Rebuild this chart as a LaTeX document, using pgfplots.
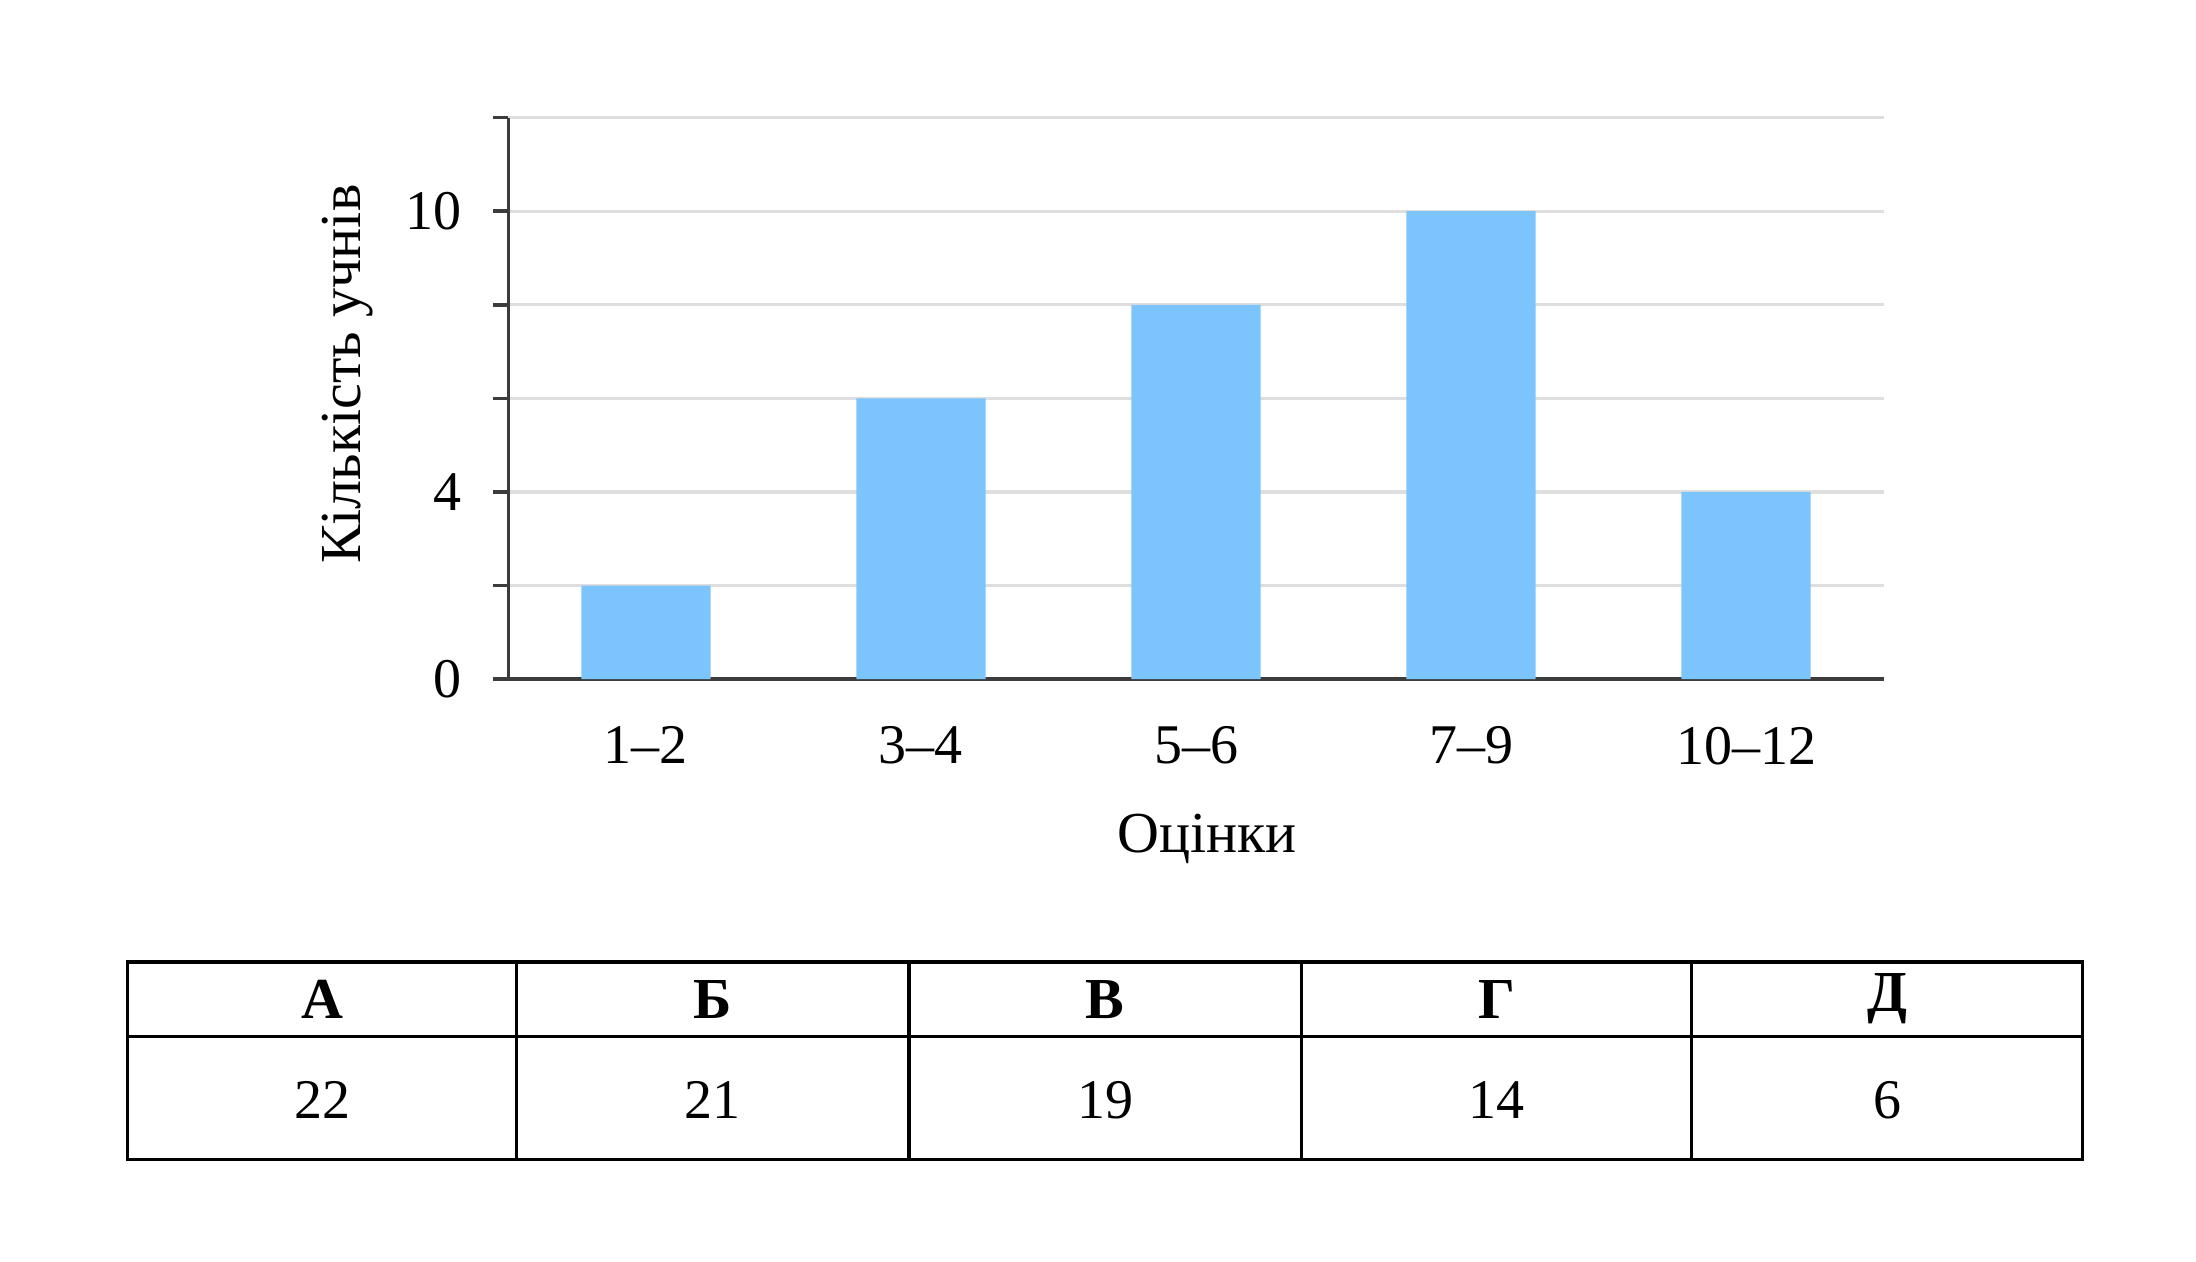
\documentclass[border=0pt]{standalone}
\usepackage{fontspec}
\setmainfont{Liberation Serif}
\usepackage{pgfplots}
\pgfplotsset{compat=1.18}
\definecolor{barblue}{RGB}{123,196,252}
\definecolor{gridgray}{RGB}{222,222,222}
\definecolor{axisgray}{RGB}{60,60,60}
\begin{document}
\fontsize{14}{16}\selectfont
\begin{tikzpicture}
\path[use as bounding box] (0,0) rectangle (549pt,315.5pt);
\begin{axis}[
  at={(127.1pt,145.7pt)}, anchor=south west,
  width=343.8pt, height=140.4pt, scale only axis,
  xmin=-0.5, xmax=4.5, ymin=0, ymax=12,
  axis x line=bottom, axis y line=left,
  axis line style={axisgray, line width=0.9pt, -},
  xtick={0,1,2,3,4},
  xticklabels={1–2,3–4,5–6,7–9,10–12},
  x tick style={draw=none},
  ytick={0,2,4,6,8,10,12},
  yticklabels={0,,4,,,10,},
  y tick style={axisgray, line width=0.9pt},
  tick align=outside,
  major tick length=3.75pt,
  ymajorgrids,
  grid style={gridgray, line width=0.8pt},
  /pgf/number format/assume math mode=true,
  tick label style={font=\fontsize{14}{16}\selectfont},
  xticklabel style={anchor=north, yshift=-3.3pt},
  yticklabel style={anchor=east, xshift=-3pt},
  xlabel={Оцінки},
  ylabel={Кількість учнів},
  every axis x label/.style={at={(axis description cs:0.508,0)}, anchor=center, yshift=-40pt, font=\fontsize{14.5}{16}\selectfont},
  every axis y label/.style={at={(axis description cs:-0.117,0.543)}, rotate=90, anchor=center, font=\fontsize{14.5}{16}\selectfont},
]
\addplot[ybar, fill=barblue, draw=none, bar width=0.47] coordinates {(0,2) (1,6) (2,8) (3,10) (4,4)};
\end{axis}
\begin{scope}[x=0.25pt, y=-0.25pt, shift={(0,315.5pt)}]
  \draw[line width=0.8pt] (127.4,962.1) rectangle (2082.5,1159.6);
  \draw[line width=0.8pt] (127.4,1036.4) -- (2082.5,1036.4);
  \foreach \xx in {516.8,908.9,1301.1,1691.8}
    \draw[line width=0.8pt] (\xx,962.1) -- (\xx,1159.6);
  \foreach \xx/\tt in {322.1/А,712.9/Б,1105/В,1496.5/Г,1887.2/Д}
    \node[font=\fontsize{14.5}{16}\selectfont\bfseries] at (\xx,999.2) {\tt};
  \foreach \xx/\tt in {322.1/22,712.9/21,1105/19,1496.5/14,1887.2/6}
    \node[font=\fontsize{14}{16}\selectfont] at (\xx,1100) {\tt};
\end{scope}
\end{tikzpicture}
\end{document}
